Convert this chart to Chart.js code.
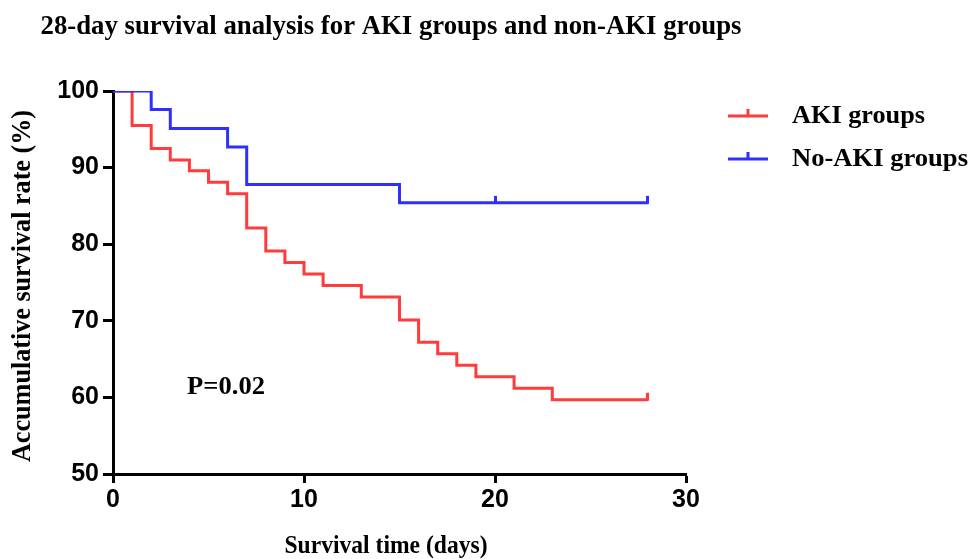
<!DOCTYPE html>
<html>
<head>
<meta charset="utf-8">
<script src="https://cdn.jsdelivr.net/npm/chart.js@4"></script>
<style>
  html, body { margin: 0; padding: 0; background: #fff; }
  #wrap { width: 970px; height: 559px; }
</style>
</head>
<body>
<div id="wrap"><canvas id="km" width="970" height="559"></canvas></div>
<script>
// Kaplan-Meier steps
const akiDays = [0, 1, 2, 3, 4, 5, 6, 7, 8, 9, 10, 11, 13, 15, 16, 17, 18, 19, 21, 23, 28];
const akiSurvival = [100, 95.5, 92.5, 91.0, 89.6, 88.1, 86.6, 82.1, 79.1, 77.6, 76.1, 74.6, 73.1, 70.1, 67.2, 65.7, 64.2, 62.7, 61.2, 59.7, 59.7];
const noAkiDays = [0, 2, 3, 6, 7, 15, 28];
const noAkiSurvival = [100, 97.6, 95.1, 92.7, 87.8, 85.4, 85.4];

// censored observations
const akiCensorDays = [28];
const akiCensorSurvival = [59.7];
const noAkiCensorDays = [20, 28];
const noAkiCensorSurvival = [85.4, 85.4];

const xTicks = [0, 10, 20, 30];
const yTicks = [50, 60, 70, 80, 90, 100];

const seriesNames = ["AKI groups", "No-AKI groups"];
const RED = "#ff3b3b";
const BLUE = "#2f2fff";
const SERIF = "'Liberation Serif', 'Times New Roman', serif";
const SANS = "'Liberation Sans', Arial, sans-serif";

const toPoints = (xs, ys) => xs.map((x, i) => ({ x: x, y: ys[i] }));

// small upward tick used as censor mark
function censorMark(color) {
  const c = document.createElement("canvas");
  c.width = 3; c.height = 16;
  const g = c.getContext("2d");
  g.fillStyle = color;
  g.fillRect(0, 1, 3, 8);
  return c;
}

// draw text squeezed/stretched to a given width
function fitText(ctx, text, x, y, width, font, rot) {
  ctx.save();
  ctx.font = font;
  ctx.fillStyle = "#000";
  ctx.textAlign = "center";
  ctx.textBaseline = "middle";
  const w = ctx.measureText(text).width;
  ctx.translate(x, y);
  if (rot) ctx.rotate(rot);
  ctx.scale(width / w, 1);
  ctx.fillText(text, 0, 0);
  ctx.restore();
}

const textPlugin = {
  id: "texts",
  afterDraw(chart) {
    const ctx = chart.ctx;
    fitText(ctx, "28-day survival analysis for AKI groups and non-AKI groups", 391, 27, 701, "bold 27px " + SERIF);
    fitText(ctx, "Accumulative survival rate (%)", 23, 286, 352, "bold 27px " + SERIF, -Math.PI / 2);
    fitText(ctx, "Survival time (days)", 386, 546, 203, "bold 26px " + SERIF);
    fitText(ctx, "P=0.02", 226, 388, 78, "bold 25px " + SERIF);

    // legend
    const rows = [
      { name: seriesNames[0], color: RED, y: 116, w: 133 },
      { name: seriesNames[1], color: BLUE, y: 159, w: 176 },
    ];
    rows.forEach((r) => {
      ctx.save();
      ctx.strokeStyle = r.color;
      ctx.lineWidth = 3;
      ctx.beginPath();
      ctx.moveTo(728, r.y);
      ctx.lineTo(768, r.y);
      ctx.moveTo(748, r.y);
      ctx.lineTo(748, r.y - 7);
      ctx.stroke();
      ctx.restore();
      fitText(ctx, r.name, 792 + r.w / 2, r.y, r.w, "bold 26px " + SERIF);
    });
  }
};

new Chart(document.getElementById("km"), {
  type: "line",
  data: {
    datasets: [
      {
        label: seriesNames[1],
        data: toPoints(noAkiDays, noAkiSurvival),
        borderColor: BLUE,
        borderWidth: 3,
        stepped: "before",
        pointRadius: 0,
        fill: false,
        order: 0
      },
      {
        label: seriesNames[1] + " censored",
        data: toPoints(noAkiCensorDays, noAkiCensorSurvival),
        showLine: false,
        pointStyle: censorMark(BLUE),
        pointRadius: 8,
        order: 0
      },
      {
        label: seriesNames[0],
        data: toPoints(akiDays, akiSurvival),
        borderColor: RED,
        borderWidth: 3,
        stepped: "before",
        pointRadius: 0,
        fill: false,
        order: 1
      },
      {
        label: seriesNames[0] + " censored",
        data: toPoints(akiCensorDays, akiCensorSurvival),
        showLine: false,
        pointStyle: censorMark(RED),
        pointRadius: 8,
        order: 1
      }
    ]
  },
  options: {
    responsive: false,
    animation: false,
    layout: { padding: { left: 0, top: 91, right: 284, bottom: 0 } },
    plugins: {
      legend: { display: false },
      tooltip: { enabled: false }
    },
    scales: {
      x: {
        type: "linear",
        min: 0,
        max: 30,
        afterBuildTicks(scale) { scale.ticks = xTicks.map((v) => ({ value: v })); },
        afterFit(scale) { scale.height = 85; },
        border: { display: true, color: "#000", width: 3 },
        grid: { drawOnChartArea: false, drawTicks: true, tickLength: 9, tickWidth: 3, tickColor: "#000" },
        ticks: { color: "#000", padding: 2, font: { family: SANS, size: 25, weight: "bold" }, maxRotation: 0 }
      },
      y: {
        min: 50,
        max: 100,
        afterBuildTicks(scale) { scale.ticks = yTicks.map((v) => ({ value: v })); },
        afterFit(scale) { scale.width = 113; },
        border: { display: true, color: "#000", width: 3 },
        grid: { drawOnChartArea: false, drawTicks: true, tickLength: 10, tickWidth: 3, tickColor: "#000" },
        ticks: { color: "#000", padding: 4, font: { family: SANS, size: 25, weight: "bold" } }
      }
    }
  },
  plugins: [textPlugin]
});
</script>
</body>
</html>
